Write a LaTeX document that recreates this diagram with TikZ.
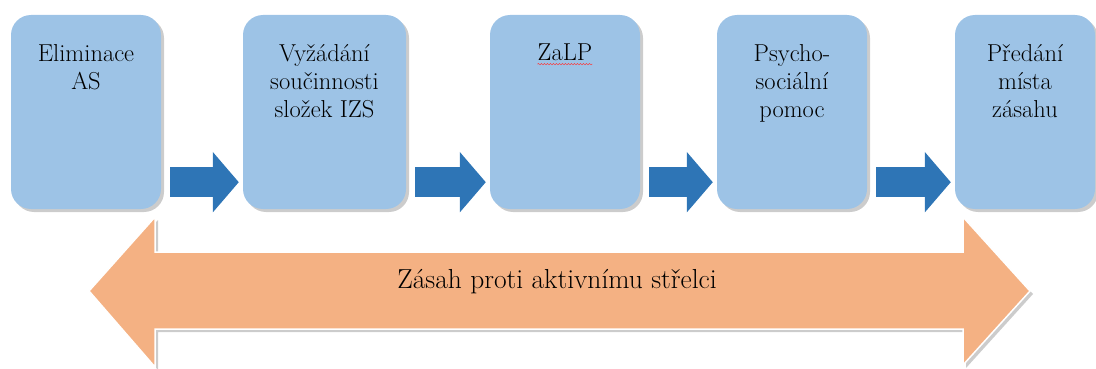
\documentclass[tikz,border=0pt]{standalone}
\usepackage{fontspec}
\usetikzlibrary{positioning,shadows,arrows.meta,decorations.pathmorphing}
\definecolor{boxblue}{HTML}{9DC3E6}
\definecolor{arrowblue}{HTML}{2E75B6}
\definecolor{bandorange}{HTML}{F4B183}
\tikzset {
    style box/.style={
        fill=boxblue,
        draw=none,
        rectangle, % Set the shape as a rectangle
        rounded corners=20pt,
        minimum height=194pt,
        drop shadow={shadow xshift=3pt, shadow yshift=-3pt, opacity=0.4},
    },
    style label/.style={
        font=\fontsize{24.5}{28}\selectfont,
        inner sep=0pt,
        anchor=north,
        align=center,
    },
    style flow/.style={
        draw=arrowblue,
        line width=30pt,
        -{Triangle[length=26pt, width=59pt]},
    },
    style band/.style={
        fill=bandorange,
        draw=white,
        line width=1.5pt,
        drop shadow={shadow xshift=3pt, shadow yshift=-3pt, opacity=0.4},
    },
}

\begin{document}
\begin{tikzpicture}[x=1pt, y=-1pt]
        \useasboundingbox (0,0) rectangle (1096,369);

        % band under the steps
        \path[style band] (89,291) -- (155,217) -- (155,252) -- (963,252) -- (963,217)
            -- (1030,291) -- (963,365) -- (963,329) -- (155,329) -- (155,367) -- cycle;
        \node[font=\fontsize{27.5}{33}\selectfont, inner sep=0pt, anchor=base] (zasah) at (557,288)
            {Zásah proti aktivnímu střelci};

        % steps
        \node[style box, minimum width=150pt] (elim) at (86,112) {};
        \node[style box, minimum width=163pt] (vyz) at (324.5,112) {};
        \node[style box, minimum width=150pt] (zalp) at (565,112) {};
        \node[style box, minimum width=150pt] (psych) at (792,112) {};
        \node[style box, minimum width=140pt] (pred) at (1025,112) {};

        \node[style label] (elimtxt) at ([yshift=-29pt]elim.north) {Eliminace\\AS};
        \node[style label] (vyztxt) at ([yshift=-29pt]vyz.north) {Vyžádání\\součinnosti\\složek IZS};
        \node[style label] (zalptxt) at ([yshift=-29pt]zalp.north) {ZaLP};
        \node[style label] (psychtxt) at ([yshift=-29pt]psych.north) {Psycho-\\sociální\\pomoc};
        \node[style label] (predtxt) at ([yshift=-29pt]pred.north) {Předání\\místa\\zásahu};

        \draw[red!80, line width=0.5pt, decorate, decoration={snake, amplitude=0.7pt, segment length=3pt}]
            ([yshift=-3pt]zalptxt.south west) -- ([yshift=-3pt]zalptxt.south east);

        % arrows between steps
        \foreach \a/\b in {elim/vyz, vyz/zalp, zalp/psych, psych/pred}
            \draw[style flow] ([xshift=9pt, yshift=27pt]\a.south east) -- ([xshift=-4pt, yshift=27pt]\b.south west);

    \end{tikzpicture}
\end{document}
